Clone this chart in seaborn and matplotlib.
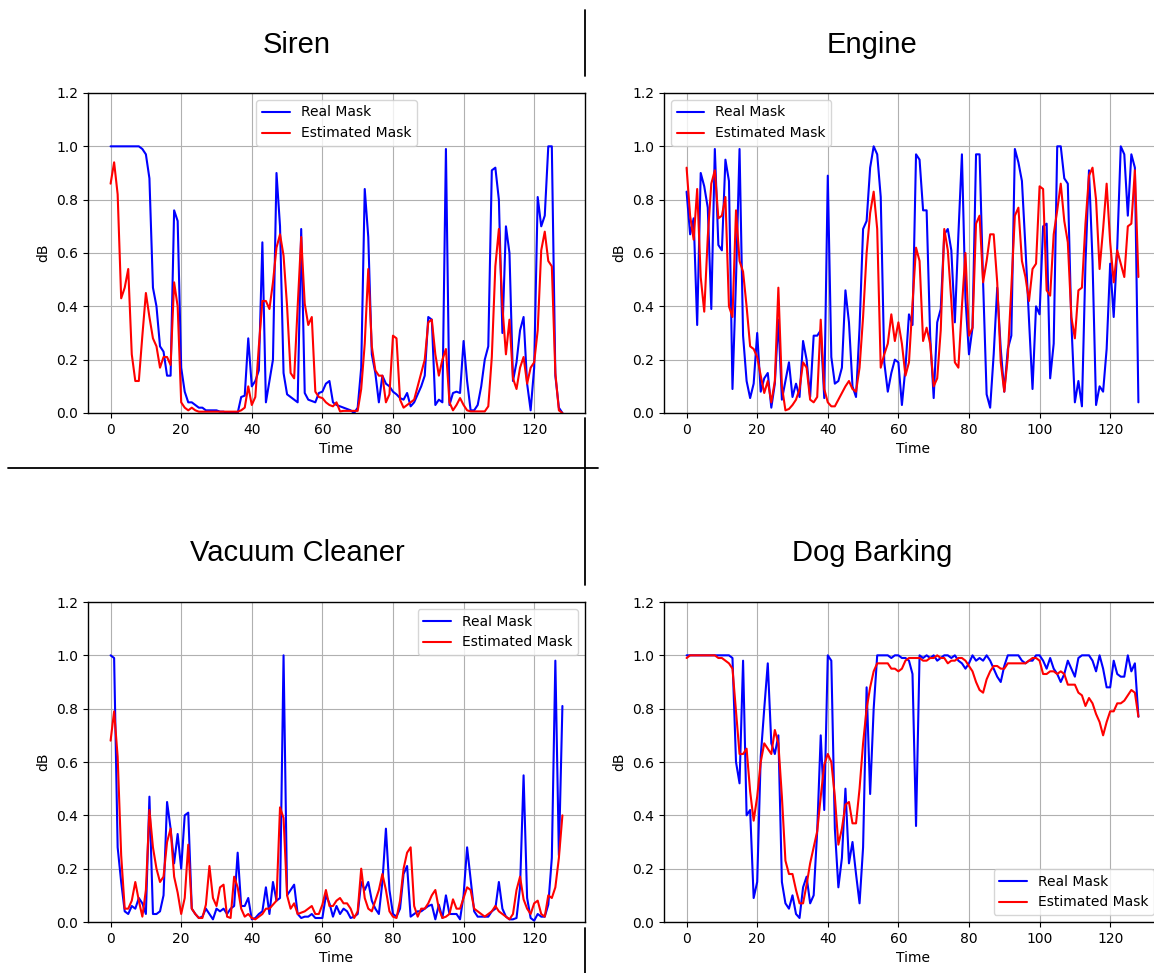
# -*- coding: utf-8 -*-

import numpy as np
import matplotlib
matplotlib.use('agg')
import matplotlib.pyplot as plt
from matplotlib.lines import Line2D
import seaborn as sns


titles = ["Siren", "Engine", "Vacuum Cleaner", "Dog Barking"]
legend_locs = ["upper center", "upper left", "upper right", "lower right"]

siren_real = [1.0, 1.0, 1.0, 1.0, 1.0, 1.0, 1.0, 1.0, 1.0, 0.99,
              0.97, 0.88, 0.47, 0.40, 0.25, 0.23, 0.14, 0.14, 0.76, 0.72,
              0.17, 0.08, 0.04, 0.04, 0.03, 0.02, 0.02, 0.01, 0.01, 0.01,
              0.01, 0.005, 0.005, 0.0, 0.0, 0.0, 0.0, 0.06, 0.065, 0.28,
              0.10, 0.12, 0.16, 0.64, 0.04, 0.12, 0.20, 0.90, 0.70, 0.15,
              0.07, 0.06, 0.05, 0.04, 0.69, 0.075, 0.05, 0.045, 0.04, 0.075,
              0.08, 0.11, 0.12, 0.04, 0.03, 0.025, 0.02, 0.015, 0.01, 0.0,
              0.02, 0.17, 0.84, 0.66, 0.22, 0.15, 0.04, 0.14, 0.11, 0.10,
              0.08, 0.07, 0.056, 0.05, 0.075, 0.025, 0.04, 0.07, 0.10, 0.14,
              0.36, 0.35, 0.03, 0.05, 0.04, 0.99, 0.03, 0.075, 0.08, 0.075,
              0.27, 0.12, 0.01, 0.01, 0.03, 0.10, 0.20, 0.25, 0.91, 0.92,
              0.80, 0.30, 0.70, 0.60, 0.12, 0.19, 0.31, 0.36, 0.11, 0.01,
              0.17, 0.81, 0.70, 0.74, 1.0, 1.0, 0.14, 0.02, 0.0]
siren_est = [0.86, 0.94, 0.82, 0.43, 0.47, 0.54, 0.22, 0.12, 0.12, 0.29,
             0.45, 0.36, 0.28, 0.25, 0.17, 0.21, 0.21, 0.18, 0.49, 0.40,
             0.04, 0.02, 0.01, 0.02, 0.01, 0.005, 0.005, 0.005, 0.005, 0.005,
             0.005, 0.005, 0.005, 0.005, 0.005, 0.005, 0.005, 0.01, 0.02, 0.10,
             0.03, 0.06, 0.25, 0.42, 0.42, 0.39, 0.49, 0.62, 0.67, 0.59,
             0.40, 0.15, 0.13, 0.40, 0.66, 0.41, 0.33, 0.36, 0.08, 0.06,
             0.056, 0.04, 0.03, 0.025, 0.04, 0.006, 0.008, 0.008, 0.008, 0.008,
             0.008, 0.09, 0.26, 0.54, 0.25, 0.16, 0.14, 0.14, 0.04, 0.07,
             0.29, 0.28, 0.05, 0.02, 0.03, 0.04, 0.05, 0.10, 0.15, 0.20,
             0.34, 0.35, 0.22, 0.14, 0.20, 0.24, 0.04, 0.01, 0.03, 0.056,
             0.03, 0.01, 0.006, 0.006, 0.006, 0.006, 0.006, 0.025, 0.21, 0.55,
             0.69, 0.40, 0.22, 0.35, 0.13, 0.09, 0.17, 0.21, 0.11, 0.17,
             0.19, 0.31, 0.61, 0.68, 0.57, 0.55, 0.15, 0.01, 0.0]

engine_real = [0.83, 0.67, 0.73, 0.33, 0.90, 0.85, 0.77, 0.39, 0.99, 0.63,
               0.61, 0.95, 0.87, 0.09, 0.50, 0.99, 0.29, 0.12, 0.056, 0.11,
               0.30, 0.08, 0.13, 0.15, 0.02, 0.11, 0.35, 0.05, 0.12, 0.19,
               0.06, 0.11, 0.06, 0.27, 0.20, 0.06, 0.29, 0.29, 0.31, 0.056,
               0.89, 0.21, 0.11, 0.12, 0.17, 0.46, 0.34, 0.10, 0.06, 0.32,
               0.69, 0.72, 0.92, 1.0, 0.97, 0.81, 0.19, 0.08, 0.15, 0.20,
               0.19, 0.03, 0.17, 0.37, 0.33, 0.97, 0.95, 0.76, 0.76, 0.29,
               0.056, 0.34, 0.39, 0.67, 0.69, 0.61, 0.34, 0.67, 0.97, 0.43,
               0.22, 0.32, 0.97, 0.97, 0.49, 0.07, 0.02, 0.22, 0.47, 0.24,
               0.08, 0.24, 0.29, 0.99, 0.94, 0.87, 0.62, 0.35, 0.09, 0.40,
               0.37, 0.70, 0.71, 0.13, 0.26, 1.0, 1.0, 0.88, 0.86, 0.34,
               0.04, 0.12, 0.025, 0.56, 0.91, 0.57, 0.03, 0.10, 0.08, 0.24,
               0.56, 0.36, 0.62, 1.0, 0.97, 0.74, 0.97, 0.92, 0.04]
engine_est = [0.92, 0.74, 0.65, 0.84, 0.51, 0.38, 0.66, 0.86, 0.91, 0.73,
              0.74, 0.81, 0.40, 0.36, 0.76, 0.57, 0.53, 0.40, 0.25, 0.24,
              0.21, 0.14, 0.075, 0.12, 0.04, 0.12, 0.47, 0.10, 0.01, 0.015,
              0.03, 0.05, 0.09, 0.19, 0.17, 0.05, 0.04, 0.06, 0.35, 0.09,
              0.04, 0.025, 0.025, 0.05, 0.075, 0.10, 0.12, 0.09, 0.08, 0.17,
              0.36, 0.60, 0.75, 0.83, 0.69, 0.17, 0.22, 0.26, 0.37, 0.27,
              0.34, 0.26, 0.14, 0.19, 0.41, 0.62, 0.57, 0.27, 0.32, 0.26,
              0.10, 0.13, 0.31, 0.69, 0.61, 0.42, 0.19, 0.17, 0.40, 0.60,
              0.29, 0.32, 0.71, 0.74, 0.49, 0.57, 0.67, 0.67, 0.49, 0.19,
              0.08, 0.21, 0.47, 0.74, 0.77, 0.57, 0.51, 0.42, 0.54, 0.56,
              0.85, 0.84, 0.46, 0.44, 0.67, 0.76, 0.86, 0.72, 0.64, 0.36,
              0.28, 0.46, 0.47, 0.71, 0.89, 0.92, 0.80, 0.54, 0.69, 0.86,
              0.64, 0.49, 0.61, 0.56, 0.51, 0.70, 0.71, 0.91, 0.51]

vacuum_real = [1.0, 0.99, 0.28, 0.15, 0.04, 0.03, 0.06, 0.05, 0.09, 0.07,
               0.03, 0.47, 0.03, 0.03, 0.04, 0.10, 0.45, 0.35, 0.22, 0.33,
               0.20, 0.40, 0.41, 0.05, 0.03, 0.015, 0.02, 0.05, 0.03, 0.01,
               0.05, 0.04, 0.05, 0.03, 0.05, 0.06, 0.26, 0.06, 0.06, 0.09,
               0.01, 0.015, 0.03, 0.04, 0.13, 0.03, 0.15, 0.08, 0.09, 1.0,
               0.10, 0.12, 0.14, 0.03, 0.015, 0.02, 0.02, 0.03, 0.015, 0.015,
               0.015, 0.10, 0.07, 0.02, 0.06, 0.03, 0.05, 0.04, 0.015, 0.02,
               0.03, 0.15, 0.12, 0.15, 0.08, 0.05, 0.03, 0.15, 0.35, 0.12,
               0.03, 0.02, 0.05, 0.18, 0.21, 0.02, 0.03, 0.04, 0.04, 0.05,
               0.06, 0.065, 0.01, 0.065, 0.015, 0.10, 0.03, 0.03, 0.03, 0.01,
               0.10, 0.28, 0.16, 0.04, 0.02, 0.02, 0.02, 0.02, 0.04, 0.05,
               0.15, 0.05, 0.02, 0.01, 0.01, 0.015, 0.13, 0.55, 0.09, 0.015,
               0.005, 0.03, 0.02, 0.02, 0.065, 0.24, 0.98, 0.25, 0.81]
vacuum_est = [0.68, 0.79, 0.62, 0.25, 0.05, 0.05, 0.08, 0.15, 0.08, 0.02,
              0.12, 0.42, 0.28, 0.20, 0.15, 0.17, 0.30, 0.35, 0.17, 0.11,
              0.03, 0.09, 0.29, 0.05, 0.03, 0.015, 0.015, 0.065, 0.21, 0.09,
              0.06, 0.13, 0.14, 0.02, 0.015, 0.17, 0.13, 0.05, 0.02, 0.03,
              0.015, 0.01, 0.02, 0.03, 0.05, 0.05, 0.065, 0.08, 0.43, 0.39,
              0.10, 0.05, 0.07, 0.03, 0.035, 0.04, 0.05, 0.06, 0.03, 0.03,
              0.065, 0.12, 0.06, 0.06, 0.08, 0.09, 0.07, 0.07, 0.05, 0.015,
              0.04, 0.20, 0.09, 0.05, 0.04, 0.08, 0.12, 0.18, 0.12, 0.04,
              0.02, 0.015, 0.08, 0.20, 0.26, 0.28, 0.06, 0.02, 0.05, 0.05,
              0.07, 0.10, 0.12, 0.05, 0.015, 0.02, 0.03, 0.085, 0.05, 0.05,
              0.09, 0.13, 0.12, 0.05, 0.04, 0.03, 0.02, 0.03, 0.04, 0.06,
              0.04, 0.03, 0.02, 0.01, 0.03, 0.12, 0.17, 0.085, 0.05, 0.03,
              0.07, 0.08, 0.03, 0.02, 0.10, 0.09, 0.13, 0.24, 0.40]

dog_real = [1.0, 1.0, 1.0, 1.0, 1.0, 1.0, 1.0, 1.0, 1.0, 1.0,
            1.0, 1.0, 1.0, 0.99, 0.60, 0.52, 0.98, 0.40, 0.42, 0.09,
            0.15, 0.62, 0.80, 0.97, 0.67, 0.63, 0.70, 0.15, 0.07, 0.05,
            0.10, 0.03, 0.015, 0.13, 0.17, 0.07, 0.10, 0.34, 0.70, 0.42,
            1.0, 0.98, 0.35, 0.13, 0.24, 0.50, 0.22, 0.30, 0.18, 0.07,
            0.28, 0.88, 0.48, 0.80, 1.0, 1.0, 1.0, 1.0, 0.99, 1.0,
            1.0, 0.99, 0.99, 0.98, 0.93, 0.36, 1.0, 0.99, 1.0, 0.99,
            1.0, 0.98, 0.99, 1.0, 1.0, 0.99, 1.0, 0.98, 0.97, 0.95,
            0.97, 1.0, 0.98, 0.99, 0.98, 1.0, 0.98, 0.95, 0.92, 0.90,
            0.96, 1.0, 1.0, 1.0, 1.0, 0.98, 0.97, 0.98, 0.98, 1.0,
            1.0, 0.98, 0.95, 0.99, 0.95, 0.93, 0.90, 0.93, 0.98, 0.95,
            0.92, 0.99, 1.0, 1.0, 1.0, 0.98, 0.94, 1.0, 0.95, 0.88,
            0.88, 0.98, 0.93, 0.92, 0.92, 1.0, 0.94, 0.97, 0.77]
dog_est = [0.99, 1.0, 1.0, 1.0, 1.0, 1.0, 1.0, 1.0, 1.0, 0.99,
           0.99, 0.98, 0.97, 0.95, 0.79, 0.63, 0.63, 0.65, 0.49, 0.38,
           0.47, 0.60, 0.67, 0.65, 0.63, 0.72, 0.67, 0.47, 0.23, 0.18,
           0.18, 0.12, 0.07, 0.07, 0.14, 0.22, 0.28, 0.34, 0.47, 0.59,
           0.63, 0.60, 0.47, 0.29, 0.35, 0.44, 0.45, 0.37, 0.37, 0.50,
           0.67, 0.80, 0.88, 0.94, 0.97, 0.97, 0.97, 0.97, 0.95, 0.95,
           0.94, 0.95, 0.98, 0.99, 0.99, 0.99, 0.99, 0.98, 0.98, 0.99,
           0.99, 1.0, 0.99, 0.99, 0.97, 0.98, 0.98, 0.99, 0.99, 0.98,
           0.96, 0.94, 0.90, 0.87, 0.86, 0.91, 0.94, 0.96, 0.96, 0.95,
           0.95, 0.97, 0.97, 0.97, 0.97, 0.97, 0.97, 0.98, 0.99, 0.99,
           0.98, 0.93, 0.93, 0.94, 0.94, 0.93, 0.94, 0.93, 0.89, 0.89,
           0.89, 0.86, 0.85, 0.81, 0.84, 0.82, 0.78, 0.75, 0.70, 0.75,
           0.79, 0.79, 0.82, 0.82, 0.83, 0.85, 0.87, 0.86, 0.77]

real_masks = [siren_real, engine_real, vacuum_real, dog_real]
est_masks = [siren_est, engine_est, vacuum_est, dog_est]

sns.set_style("ticks", {"axes.grid": True, "grid.color": "#b0b0b0",
                        "axes.edgecolor": "black", "xtick.color": "black",
                        "ytick.color": "black", "text.color": "black",
                        "axes.labelcolor": "black"})
plt.rcParams['font.family'] = ['DejaVu Sans']
plt.rcParams['font.size'] = 10
plt.rcParams['xtick.labelsize'] = 10
plt.rcParams['ytick.labelsize'] = 10
plt.rcParams['axes.labelsize'] = 10
plt.rcParams['legend.fontsize'] = 10

W, H = 1154., 973.
fig = plt.figure(figsize=(W / 100, H / 100), dpi=100)

# pixel boxes of the four plot areas: left, top
boxes = [(88, 93), (664, 93), (88, 602), (664, 602)]
ax_w, ax_h = 497, 320
title_pos = [(297, 45), (872, 45), (297, 553), (872, 553)]

for k in range(4):
    left, top = boxes[k]
    ax = fig.add_axes([left / W, 1 - (top + ax_h) / H, ax_w / W, ax_h / H])
    real = real_masks[k]
    est = est_masks[k]
    sns.lineplot(x=np.arange(len(real)), y=real, color='b', lw=1.5,
                 label='Real Mask', ax=ax)
    sns.lineplot(x=np.arange(len(est)), y=est, color='r', lw=1.5,
                 label='Estimated Mask', ax=ax)
    ax.set_ylim(0, 1.2)
    ax.set_xticks(range(0, 121, 20))
    ax.set_yticks(np.arange(0, 1.21, 0.2))
    ax.set_yticklabels(["%.1f" % v for v in np.arange(0, 1.21, 0.2)])
    ax.set_xlabel("Time")
    ax.set_ylabel("dB")
    ax.grid(True, lw=0.8)
    ax.legend(loc=legend_locs[k], frameon=True)
    for s in ax.spines.values():
        s.set_visible(True)
        s.set_linewidth(1.0)
    # right-hand pictures are cut off at the image edge
    if k in (1, 3):
        ax.spines['right'].set_visible(False)
    tx, ty = title_pos[k]
    fig.text(tx / W, 1 - ty / H, titles[k], ha='center', va='center',
             fontsize=21, family='Liberation Sans')

# divider lines between the four pictures
def seg(x0, y0, x1, y1):
    fig.add_artist(Line2D([x0 / W, x1 / W], [1 - y0 / H, 1 - y1 / H],
                          color='black', lw=1.3, transform=fig.transFigure))

seg(585, 10, 585, 76)
seg(585, 418, 585, 585)
seg(585, 928, 585, 973)
seg(8, 468, 598, 468)

fig.savefig("out.png", dpi=100)
